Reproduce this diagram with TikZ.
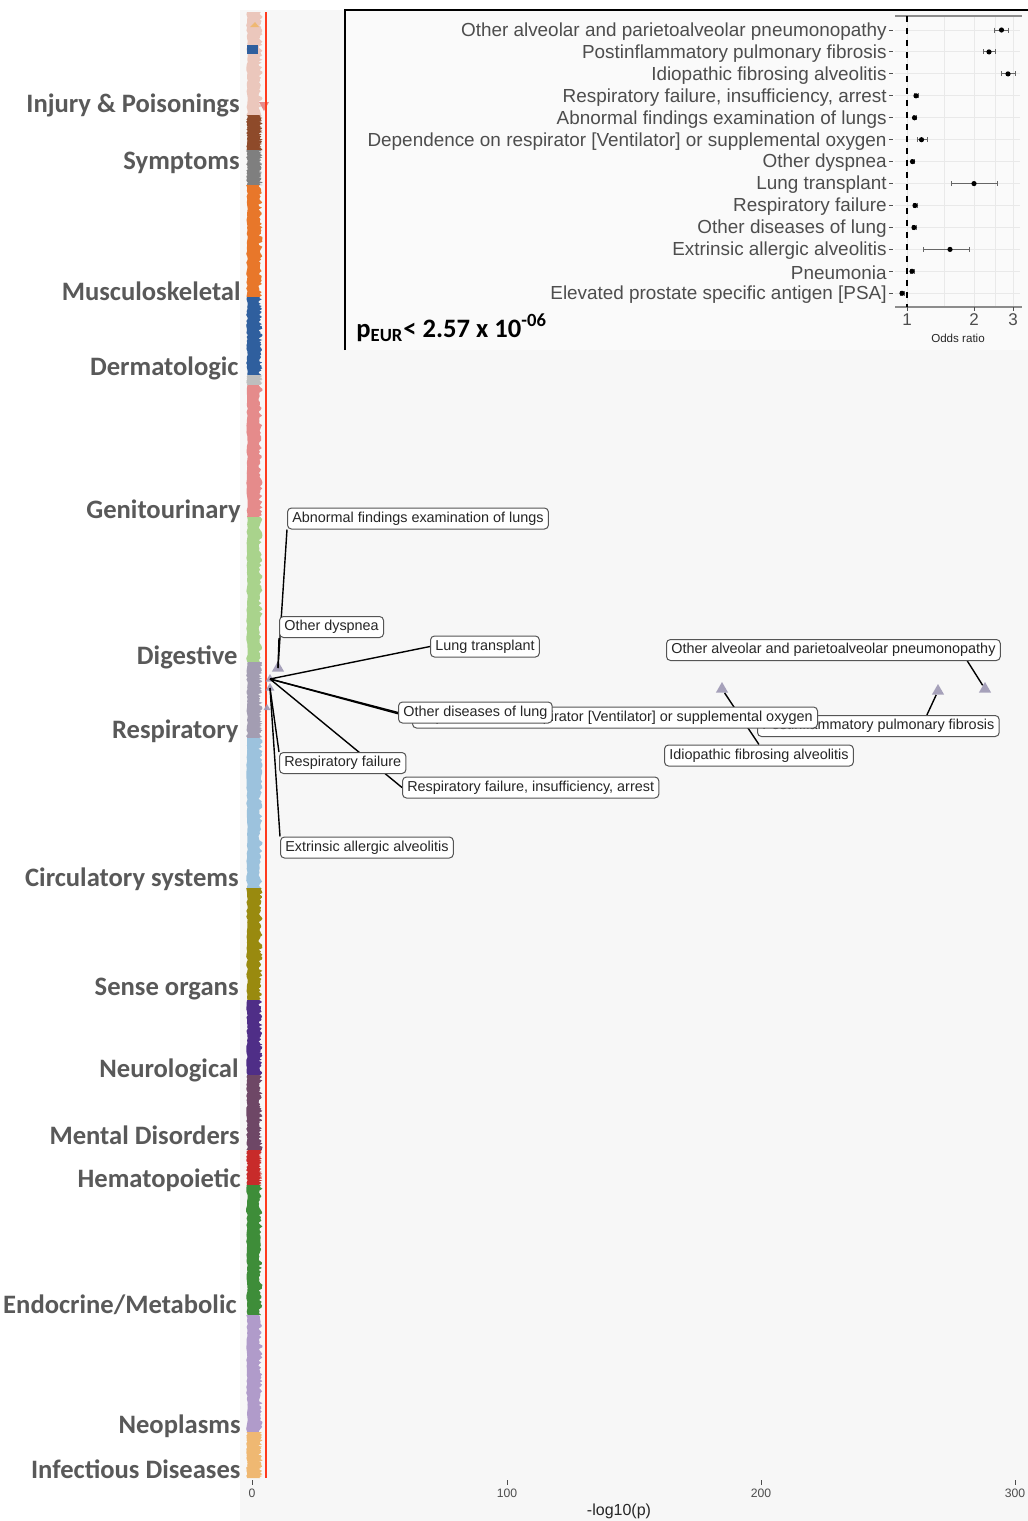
\documentclass[tikz,border=0pt]{standalone}
\usepackage{fontspec}
\setmainfont{Liberation Sans}
\newfontfamily\calfont{Carlito}
\usetikzlibrary{shapes.geometric,calc}
\definecolor{panel}{HTML}{F7F7F7}
\definecolor{insetbg}{HTML}{FAFAFA}
\definecolor{catgray}{HTML}{595959}
\definecolor{axgray}{HTML}{4D4D4D}
\definecolor{boxgray}{HTML}{555555}
\definecolor{gridc}{HTML}{E9E9E9}
\definecolor{ptcol}{HTML}{9E98B4}
\definecolor{thr}{HTML}{FF3A1E}
\definecolor{cInj}{HTML}{EBC7BC}
\definecolor{cBrown}{HTML}{8E4A2A}
\definecolor{cGray}{HTML}{7F7F7F}
\definecolor{cOrange}{HTML}{E8772A}
\definecolor{cBlue}{HTML}{2F5F9E}
\definecolor{cLgray}{HTML}{BEBEBE}
\definecolor{cSalmon}{HTML}{E58B8B}
\definecolor{cLgreen}{HTML}{A9D38C}
\definecolor{cGpurple}{HTML}{A39DB2}
\definecolor{cLblue}{HTML}{9CC2DD}
\definecolor{cOlive}{HTML}{998A0F}
\definecolor{cDpurple}{HTML}{4F2E87}
\definecolor{cMauve}{HTML}{6E4766}
\definecolor{cRed}{HTML}{C82B2A}
\definecolor{cGreen}{HTML}{3E8D39}
\definecolor{cLav}{HTML}{B09BCA}
\definecolor{cLorange}{HTML}{EFB872}
\pgfdeclarelayer{bg}
\pgfdeclarelayer{lines}
\pgfsetlayers{bg,lines,main}
\begin{document}
\begin{tikzpicture}[x=0.5pt,y=-0.5pt,
  catlab/.style={anchor=east, text=catgray, font=\calfont\bfseries\fontsize{13.3}{15}\selectfont, inner sep=0pt},
  rowlab/.style={anchor=east, text=axgray, font=\fontsize{9.45}{11}\selectfont, inner sep=0pt},
  lab/.style={draw=boxgray, fill=white, rounded corners=2pt, font=\fontsize{7.2}{8}\selectfont, inner xsep=2.4pt, inner ysep=0pt, minimum height=10.5pt, anchor=west, text=black!85, line width=0.5pt},
  tri/.style={regular polygon, regular polygon sides=3, fill=ptcol, fill opacity=0.9, inner sep=0pt, minimum size=7pt},
  conn/.style={line width=0.7pt, black},
  tickl/.style={draw=axgray, line width=0.5pt},
  ticktxt/.style={text=axgray, font=\fontsize{6.1}{7}\selectfont, inner sep=0pt},
  errbar/.style={draw=black!60, line width=0.45pt},
  dot/.style={circle, fill=black, inner sep=0pt, minimum size=2.6pt}
]
\useasboundingbox (0,0) rectangle (1028,1521);
\begin{pgfonlayer}{bg}
\fill[white] (0,0) rectangle (1028,1521);
\fill[panel] (240,10) rectangle (1028,1521);
\pgfmathsetseed{7}
\foreach \a/\b/\c in {12/115/cInj, 115/150/cBrown, 150/185/cGray, 185/297/cOrange, 297/375/cBlue, 375/385/cLgray, 385/517/cSalmon, 517/662/cLgreen, 662/738/cGpurple, 738/888/cLblue, 888/1000/cOlive, 1000/1075/cDpurple, 1075/1150/cMauve, 1150/1185/cRed, 1185/1315/cGreen, 1315/1432/cLav, 1432/1478/cLorange}{
  \fill[\c] plot[domain=\a:\b, samples=70] ({260.5+2*rand},\x) -- plot[domain=\b:\a, samples=40] ({247+0.8*rand},\x) -- cycle;
}
\fill[cBlue] (247,45) rectangle (258,54);
\fill[cLorange] (250,27) -- (255,22) -- (259,27) -- cycle;
\fill[cSalmon] (259,102) -- (269,102) -- (264,111) -- cycle;
\draw[thr, line width=0.8pt] (266,12) -- (266,1478);
\end{pgfonlayer}

% category labels
\node[catlab] (c1) at (240,105) {Injury \& Poisonings};
\node[catlab] (c2) at (240,163) {Symptoms};
\node[catlab] (c3) at (241,291) {Musculoskeletal};
\node[catlab] (c4) at (239,368) {Dermatologic};
\node[catlab] (c5) at (241,511) {Genitourinary};
\node[catlab] (c6) at (238,657) {Digestive};
\node[catlab] (c7) at (239,731) {Respiratory};
\node[catlab] (c8) at (239,879) {Circulatory systems};
\node[catlab] (c9) at (239,989) {Sense organs};
\node[catlab] (c10) at (239,1070) {Neurological};
\node[catlab] (c11) at (240,1135) {Mental Disorders};
\node[catlab] (c12) at (241,1180) {Hematopoietic};
\node[catlab] (c13) at (237,1305) {Endocrine/Metabolic};
\node[catlab] (c14) at (241,1426) {Neoplasms};
\node[catlab] (c15) at (241,1469) {Infectious Diseases};

% x axis
\foreach \v/\px in {0/252,100/507,200/761,300/1015}{
  \draw[tickl] (\px,1480) -- (\px,1485);
  \node[ticktxt] (xt\v) at (\px,1493) {\v};
}
\node[text=black!85, font=\fontsize{8}{9}\selectfont, inner sep=0pt] (xlab) at (619,1511) {-log10(p)};

% label boxes
\node[lab] (abn) at (287,518.5) {Abnormal findings examination of lungs};
\node[lab] (dysp) at (279,627) {Other dyspnea};
\node[lab] (lung) at (430,646.5) {Lung transplant};
\node[lab] (oalv) at (666,650) {Other alveolar and parietoalveolar pneumonopathy};
\node[lab] (post) at (757,726) {Postinflammatory pulmonary fibrosis};
\node[lab] (dep) at (412,717.5) {Dependence on respirator [Ventilator] or supplemental oxygen};
\node[lab] (odis) at (398,712.5) {Other diseases of lung};
\node[lab] (idio) at (664,755.5) {Idiopathic fibrosing alveolitis};
\node[lab] (resp) at (279,763) {Respiratory failure};
\node[lab] (respi) at (402,787.5) {Respiratory failure, insufficiency, arrest};
\node[lab] (extr) at (280,847.5) {Extrinsic allergic alveolitis};

\begin{pgfonlayer}{lines}
\node[tri] (h1) at (278,668) {};
\node[tri, minimum size=5pt] (h2) at (270,679) {};
\node[tri, minimum size=5pt] (h3) at (270,688) {};
\node[tri, minimum size=4pt] (h4) at (267,708) {};
\node[tri] (t1) at (722,689) {};
\node[tri] (t2) at (938,691) {};
\node[tri] (t3) at (985,689) {};
\draw[conn] (h1.center) -- (abn.south west);
\draw[conn] (h1.center) -- (dysp.south west);
\draw[conn] (h2.center) -- (lung.west);
\draw[conn] (h2.center) -- (odis.west);
\draw[conn] (h2.center) -- (dep.west);
\draw[conn] (h3.center) -- (resp.north west);
\draw[conn] (h2.center) -- (respi.west);
\draw[conn] (h3.center) -- (extr.north west);
\draw[conn] (t1) -- (idio.north);
\draw[conn] (t2) -- ($(post.north)!0.4!(post.north east)$);
\draw[conn] (t3) -- ($(oalv.south)!0.8!(oalv.south east)$);
\end{pgfonlayer}

% inset
\fill[insetbg] (345,10) rectangle (1028,350);
\draw[black, line width=0.8pt] (345,350) -- (345,10) -- (1028,10);
\foreach \y in {30,51.9,73.9,95.8,117.8,139.7,161.6,183.6,205.5,227.5,249.4,271.3,293.3}{
  \draw[gridc, line width=0.5pt] (895,\y) -- (1020,\y);
  \draw[tickl] (889,\y) -- (893,\y);
}
\foreach \xx in {907,944,974,995,1013}{
  \draw[gridc, line width=0.5pt] (\xx,16) -- (\xx,307);
}
\draw[black!45, line width=0.7pt] (895,16) -- (1022,16);
\draw[black!45, line width=0.7pt] (895,307) -- (1022,307);
\draw[black, dashed, line width=0.55pt] (907,16) -- (907,307);
\foreach \v/\px in {1/907,2/974,3/1013}{
  \draw[tickl] (\px,307) -- (\px,311);
  \node[text=axgray, font=\fontsize{8.5}{9}\selectfont, inner sep=0pt] (it\v) at (\px,320) {\v};
}
\node[text=black!85, font=\fontsize{5.8}{6}\selectfont, inner sep=0pt] (orlab) at (958,338) {Odds ratio};

\node[rowlab] (r1) at (887,31.5) {Other alveolar and parietoalveolar pneumonopathy};
\node[rowlab] (r2) at (887,53.4) {Postinflammatory pulmonary fibrosis};
\node[rowlab] (r3) at (887,75.4) {Idiopathic fibrosing alveolitis};
\node[rowlab] (r4) at (887,97.3) {Respiratory failure, insufficiency, arrest};
\node[rowlab] (r5) at (887,119.3) {Abnormal findings examination of lungs};
\node[rowlab] (r6) at (887,141.2) {Dependence on respirator [Ventilator] or supplemental oxygen};
\node[rowlab] (r7) at (887,163.1) {Other dyspnea};
\node[rowlab] (r8) at (887,185.1) {Lung transplant};
\node[rowlab] (r9) at (887,207) {Respiratory failure};
\node[rowlab] (r10) at (887,229) {Other diseases of lung};
\node[rowlab] (r11) at (887,250.9) {Extrinsic allergic alveolitis};
\node[rowlab] (r12) at (887,272.8) {Pneumonia};
\node[rowlab] (r13) at (887,294.8) {Elevated prostate specific antigen [PSA]};

\foreach \y/\m/\lo/\hi [count=\k] in {30/1001.5/994/1008, 51.9/989/983/995, 73.9/1008/1001/1015, 95.8/916/914/918, 117.8/914.5/913/916, 139.7/921.5/917/927, 161.6/912.5/911/914, 183.6/974/951/997, 205.5/915/913/917, 227.5/914/912/916, 249.4/950/923/969, 271.3/912/910/914, 293.3/902/900/904}{
  \draw[errbar] (\lo,\y) -- (\hi,\y);
  \draw[errbar] (\lo,\y-2.5) -- (\lo,\y+2.5);
  \draw[errbar] (\hi,\y-2.5) -- (\hi,\y+2.5);
  \node[dot] (pt\k) at (\m,\y) {};
}

\node[anchor=base west, inner sep=0pt, font=\calfont\bfseries\fontsize{13.3}{15}\selectfont] (pval) at (356,337) {p\textsubscript{EUR}< 2.57 x 10\textsuperscript{-06}};
\end{tikzpicture}
\end{document}
